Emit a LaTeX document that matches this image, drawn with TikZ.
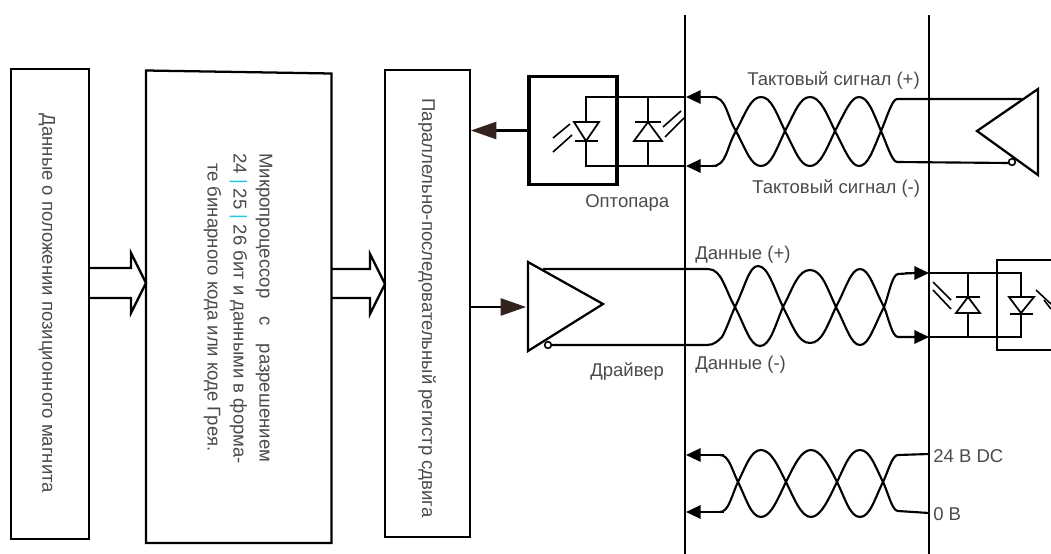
\documentclass[tikz,border=0pt]{standalone}
\usepackage{fontspec}
\setmainfont{Liberation Sans}
\usetikzlibrary{arrows.meta}
\definecolor{txt}{HTML}{4A4A4A}
\definecolor{cyanbar}{HTML}{2CC5E8}
\definecolor{dkarrow}{HTML}{33231F}
\tikzset{
  lbl/.style={text=txt,font=\fontsize{13.9}{15}\selectfont,inner sep=0pt,anchor=west},
  rotlbl/.style={text=txt,font=\fontsize{13.9}{15}\selectfont,inner sep=0pt,rotate=-90},
  blockbox/.style={draw=black,line width=1.7pt,fill=none},
  wire/.style={draw=black,line width=1.6pt},
  thickwire/.style={draw=black,line width=1.9pt},
  tip/.style={-{Triangle[length=11pt,width=10pt]}},
  diodeline/.style={draw=black,line width=1.3pt},
  bubble/.style={draw=black,line width=1.2pt,circle,fill=white,inner sep=0pt,minimum size=5pt},
}
\begin{document}
\begin{tikzpicture}[x=0.75pt,y=-0.75pt]
\useasboundingbox (0,0) rectangle (1051,554);
% bus lines
\coordinate (busAtop) at (685,15); \coordinate (busAbot) at (685,554);
\coordinate (busBtop) at (929,15); \coordinate (busBbot) at (929,554);
\draw[thickwire] (busAtop) -- (busAbot);
\draw[thickwire] (busBtop) -- (busBbot);
% blocks
\node[blockbox,minimum width=58.5pt,minimum height=352.5pt,inner sep=0pt] (pos) at (50,304) {};
\node[inner sep=0pt,minimum width=138.5pt,minimum height=354pt] (mcu) at (238.5,307) {};
\draw[blockbox] (146,70.5) -- (331.5,73.5) -- (331.5,543) -- (146,543) -- cycle;
\node[blockbox,minimum width=63.5pt,minimum height=350pt,inner sep=0pt] (reg) at (427.5,303.5) {};
\node[rotlbl] at (47,303.5) {Данные о положении позиционного магнита};
\node[rotlbl] at (427,308) {Параллельно-последовательный регистр сдвига};
\node[rotlbl,anchor=west] at (264,153) {Микропроцессор\hspace{13.5pt}с\hspace{13.5pt}разрешением};
\node[rotlbl,anchor=west] at (238.5,153) {24 \textcolor{cyanbar}{|} 25 \textcolor{cyanbar}{|} 26 бит и данными в форма-};
\node[rotlbl,anchor=west] at (212.5,163) {те бинарного кода или коде Грея.};
% hollow arrows
\draw[wire,line width=1.7pt] (pos.east |- 0,268) -- (131,268) -- (131,253) -- (146,283) -- (131,313) -- (131,298) -- (pos.east |- 0,298);
\draw[wire,line width=1.7pt] (mcu.east |- 0,269) -- (370,269) -- (370,254) -- (385,284) -- (370,314) -- (370,298) -- (mcu.east |- 0,298);
% optocoupler
\node[draw=black,line width=2.3pt,minimum width=66pt,minimum height=81pt,inner sep=0pt] (opto) at (573,130.5) {};
\coordinate (optoTL) at (586,97); \coordinate (optoBL) at (586,166);
\coordinate (optoTR) at (685,97); \coordinate (optoBR) at (685,166);
\draw[wire] (optoTR) -- (optoTL) -- (optoBL) -- (optoBR);
% diode 1 (down)
\draw[diodeline,fill=white] (574,122) -- (599,122) -- (586,141) -- cycle;
\draw[diodeline] (575,141) -- (598,141);
\draw[line width=1.2pt] (553,138) -- (570,124);
\draw[line width=1.2pt] (553,152) -- (572,135);
% diode 2 (up)
\draw[wire] (648,97) -- (648,166);
\draw[diodeline,fill=white] (634,141) -- (662,141) -- (648,122) -- cycle;
\draw[diodeline] (635,122) -- (661,122);
\draw[line width=1.2pt] (663,127) -- (681,111);
\draw[line width=1.2pt] (665,137) -- (684,118);
% opto output
\draw[line width=2.3pt,black] (opto.west) -- (495,130.5);
\draw[line width=1pt,-{Triangle[length=19pt,width=13pt]},dkarrow] (497,130.5) -- (471,130.5);
% clock twist
\draw[wire,tip] (717,97) -- (686,97);
\draw[wire,tip] (717,166) -- (686,166);
\draw[wire] (712,97) .. controls (727,97) and (726,115) .. (736,131) .. controls (746,150) and (751,166) .. (761,166) .. controls (771,166) and (776,150) .. (785,131) .. controls (795,112) and (800,97) .. (810,97) .. controls (820,97) and (826,112) .. (835,131) .. controls (845,150) and (851,166) .. (859,166) .. controls (868,166) and (873,150) .. (881,131) .. controls (886,120) and (892,99) .. (897,99) -- (1022,99);
\draw[wire] (712,166) .. controls (727,166) and (726,148) .. (736,131) .. controls (746,112) and (751,97) .. (761,97) .. controls (771,97) and (776,112) .. (785,131) .. controls (795,150) and (800,166) .. (810,166) .. controls (820,166) and (826,150) .. (835,131) .. controls (845,112) and (851,97) .. (859,97) .. controls (868,97) and (873,112) .. (881,131) .. controls (886,142) and (892,162) .. (897,162) -- (1010,163);
% receiver triangle
\draw[diodeline,line width=1.7pt] (1038,89) -- (977,131) -- (1038,175) -- cycle;
\node[bubble] (rxb) at (1012,162) {};
% driver
\draw[line width=1.3pt,black] (reg.east |- 0,307) -- (505,307);
\draw[line width=1pt,-{Triangle[length=19pt,width=13pt]},dkarrow] (501,307) -- (526,307);
\draw[diodeline,line width=1.7pt] (528,262) -- (603,304) -- (528,351) -- cycle;
\node[bubble] (txb) at (548,345) {};
% data twist
\draw[wire] (543,269) -- (708,269) .. controls (722,269) and (725,290) .. (735,307) .. controls (745,326) and (750,346) .. (760,346) .. controls (770,346) and (775,326) .. (783,307) .. controls (793,288) and (798,270) .. (810,270) .. controls (822,270) and (827,288) .. (836,307) .. controls (846,326) and (851,345) .. (860,345) .. controls (869,345) and (874,326) .. (884,307) .. controls (888,298) and (892,274) .. (898,274) -- (915,273);
\draw[wire] (551,345) -- (707,345) .. controls (714,345) and (718,341) .. (722,337) .. controls (727,328) and (730,318) .. (735,307) .. controls (745,287) and (749,266) .. (758,266) .. controls (768,266) and (774,288) .. (783,307) .. controls (793,326) and (798,343) .. (810,343) .. controls (822,343) and (827,326) .. (836,307) .. controls (846,288) and (851,269) .. (860,269) .. controls (869,269) and (874,288) .. (884,307) .. controls (888,316) and (892,337) .. (898,337) -- (915,337);
\draw[wire,tip] (905,273) -- (929,273);
\draw[wire,tip] (905,337) -- (929,337);
% right opto
\node[draw=black,line width=1.6pt,minimum width=80pt,minimum height=68pt,inner sep=0pt] (optoR) at (1050,305) {};
\draw[wire] (929,273) -- (1021,273) -- (1021,337) -- (929,337);
\draw[wire] (968,273) -- (968,337);
\draw[diodeline,fill=white] (956,313) -- (980,313) -- (968,297) -- cycle;
\draw[diodeline] (956,297) -- (980,297);
\draw[line width=1.2pt] (933,282) -- (951,300);
\draw[line width=1.2pt] (933,290) -- (951,309);
\draw[diodeline,fill=white] (1009,297) -- (1034,297) -- (1021,313) -- cycle;
\draw[diodeline] (1010,314) -- (1033,314);
\draw[line width=1.2pt] (1036,290) -- (1051,304);
\draw[line width=1.2pt] (1044,300) -- (1051,309);
% power twist
\draw[wire,tip] (724,455) -- (686,455);
\draw[wire,tip] (724,512) -- (686,512);
\draw[wire] (720,455) .. controls (729,455) and (732,470) .. (738,482) .. controls (746,498) and (751,517) .. (761,517) .. controls (771,517) and (778,498) .. (786,482) .. controls (794,466) and (801,450) .. (811,450) .. controls (821,450) and (829,466) .. (837,482) .. controls (845,498) and (850,517) .. (860,517) .. controls (870,517) and (875,498) .. (883,482) .. controls (888,472) and (892,455) .. (898,455) -- (929,454);
\draw[wire] (720,512) .. controls (729,512) and (732,494) .. (738,482) .. controls (746,466) and (751,450) .. (761,450) .. controls (771,450) and (778,466) .. (786,482) .. controls (794,498) and (801,517) .. (811,517) .. controls (821,517) and (829,498) .. (837,482) .. controls (845,466) and (850,450) .. (860,450) .. controls (870,450) and (875,466) .. (883,482) .. controls (888,492) and (892,511) .. (898,511) -- (929,513);
% labels
\node[lbl] at (747,81) {Тактовый сигнал (+)};
\node[lbl] at (752,189) {Тактовый сигнал (-)};
\node[lbl] at (585,203) {Оптопара};
\node[lbl] at (695,255) {Данные (+)};
\node[lbl] at (695,365) {Данные (-)};
\node[lbl] at (590,372) {Драйвер};
\node[lbl] at (933,456) {24 В DC};
\node[lbl] at (933,514) {0 В};
\end{tikzpicture}
\end{document}
